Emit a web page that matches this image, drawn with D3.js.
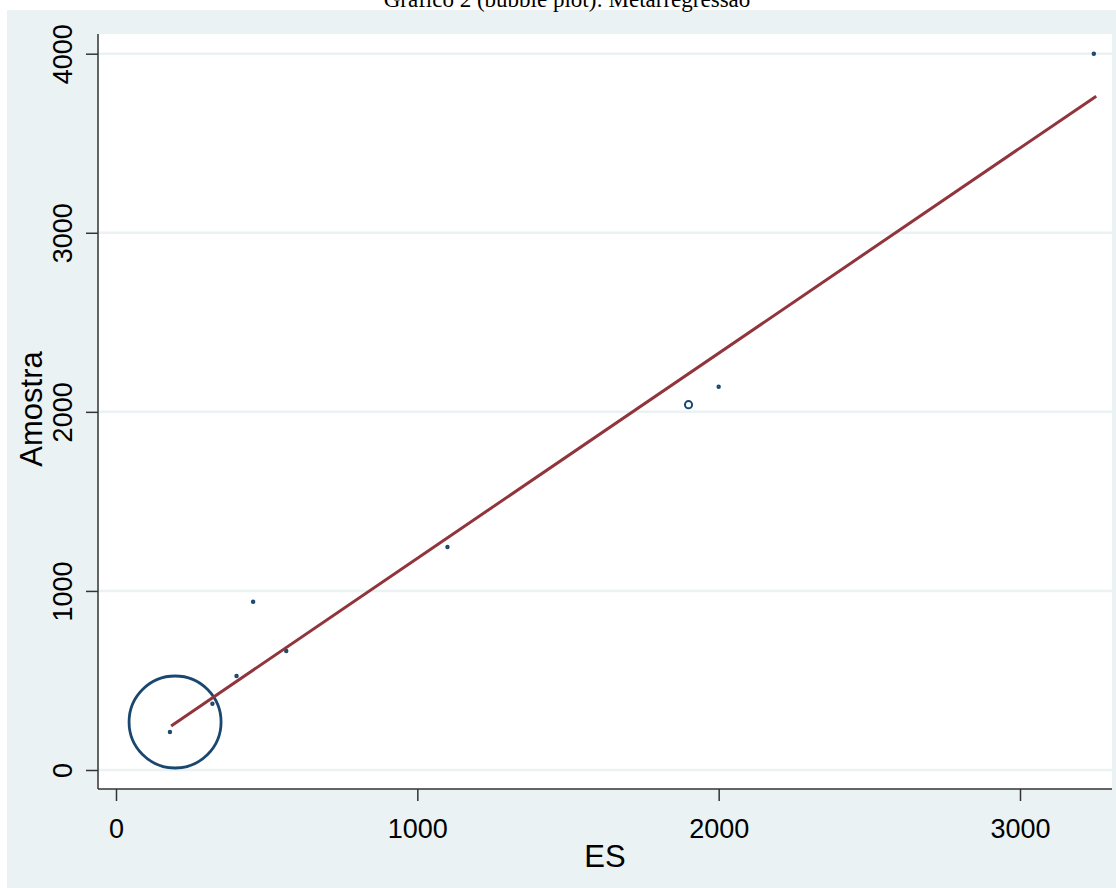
<!DOCTYPE html>
<html>
<head>
<meta charset="utf-8">
<script src="https://cdn.jsdelivr.net/npm/d3@7"></script>
<style>
  body { margin: 0; background: #fff; }
  .tick text { font-family: "Liberation Sans", Arial, sans-serif; font-size: 27px; fill: #000; }
</style>
</head>
<body>
<div class="chart"></div>
<script>
// DATA ---------------------------------------------------------------
const es      = [196, 179, 320, 400, 455, 565, 1100, 1900, 2000, 3245];
const amostra = [268, 212, 370, 525, 940, 665, 1245, 2040, 2140, 4000];
const peso    = [100, 0.07, 0.07, 0.07, 0.07, 0.07, 0.07, 0.6, 0.07, 0.07];

// fitted meta-regression line (endpoints)
const fitES      = [183, 3253];
const fitAmostra = [246, 3763];

const xTicks = [0, 1000, 2000, 3000];
const yTicks = [0, 1000, 2000, 3000, 4000];

// CHART INIT ---------------------------------------------------------
const width = 1116, height = 888;
const plot = {left: 98, right: 1112, top: 34, bottom: 789};

const svg = d3.select('.chart')
    .append('svg')
    .attr('width', width)
    .attr('height', height);

// graph region background
svg.append('rect')
    .attr('x', 7).attr('y', 10)
    .attr('width', width - 7).attr('height', height - 10)
    .attr('fill', '#eaf2f3');

// plot region
svg.append('rect')
    .attr('x', plot.left).attr('y', plot.top)
    .attr('width', plot.right - plot.left).attr('height', plot.bottom - plot.top)
    .attr('fill', '#fff');

const xScale = d3.scaleLinear().domain([0, 3000]).range([116, 1020]);
const yScale = d3.scaleLinear().domain([0, 4000]).range([770, 53.7]);
const rScale = d3.scaleSqrt().domain([0, d3.max(peso)]).range([0, 46]);

// gridlines
svg.append('g')
    .selectAll('line')
    .data(yTicks)
    .join('line')
    .attr('x1', plot.left).attr('x2', plot.right)
    .attr('y1', d => yScale(d)).attr('y2', d => yScale(d))
    .attr('stroke', '#eaf2f3')
    .attr('stroke-width', 2.5);

// axes
const xAxis = d3.axisBottom(xScale).tickValues(xTicks).tickSize(12).tickFormat(d3.format('d'));
const yAxis = d3.axisLeft(yScale).tickValues(yTicks).tickSize(12).tickFormat(d3.format('d'));

const gx = svg.append('g')
    .attr('transform', 'translate(0,' + plot.bottom + ')')
    .call(xAxis);
gx.select('.domain').remove();
gx.selectAll('.tick line').attr('stroke', '#333').attr('stroke-width', 1.5);
gx.selectAll('.tick text').attr('y', 49).attr('dy', null);

const gy = svg.append('g')
    .attr('transform', 'translate(' + plot.left + ',0)')
    .call(yAxis);
gy.select('.domain').remove();
gy.selectAll('.tick line').attr('stroke', '#333').attr('stroke-width', 1.5);
gy.selectAll('.tick text')
    .attr('x', 0).attr('dy', null)
    .attr('text-anchor', 'middle')
    .attr('transform', 'translate(-26,0) rotate(-90)');

// axis lines
svg.append('line')
    .attr('x1', plot.left).attr('x2', plot.left)
    .attr('y1', plot.top).attr('y2', plot.bottom)
    .attr('stroke', '#333').attr('stroke-width', 1.5);
svg.append('line')
    .attr('x1', plot.left).attr('x2', plot.right)
    .attr('y1', plot.bottom).attr('y2', plot.bottom)
    .attr('stroke', '#333').attr('stroke-width', 1.5);

// bubbles
svg.append('g')
    .selectAll('circle')
    .data(es.map((d, i) => ({x: d, y: amostra[i], w: peso[i]})))
    .join('circle')
    .attr('cx', d => xScale(d.x))
    .attr('cy', d => yScale(d.y))
    .attr('r', d => Math.max(rScale(d.w), 0.8))
    .attr('fill', 'none')
    .attr('stroke', '#1a476f')
    .attr('stroke-width', d => rScale(d.w) > 10 ? 2.8 : 2);

// fitted line
svg.append('line')
    .attr('x1', xScale(fitES[0])).attr('y1', yScale(fitAmostra[0]))
    .attr('x2', xScale(fitES[1])).attr('y2', yScale(fitAmostra[1]))
    .attr('stroke', '#90353b')
    .attr('stroke-width', 3);

// titles
svg.append('text')
    .attr('x', 567).attr('y', 7)
    .attr('text-anchor', 'middle')
    .style('font-family', '"Liberation Serif", "Times New Roman", serif')
    .style('font-size', '23px')
    .text('Gráfico 2 (bubble plot): Metarregressão');

svg.append('text')
    .attr('x', 605).attr('y', 867)
    .attr('text-anchor', 'middle')
    .style('font-family', '"Liberation Sans", Arial, sans-serif')
    .style('font-size', '31px')
    .text('ES');

svg.append('text')
    .attr('transform', 'translate(42,409) rotate(-90)')
    .attr('text-anchor', 'middle')
    .style('font-family', '"Liberation Sans", Arial, sans-serif')
    .style('font-size', '31px')
    .text('Amostra');
</script>
</body>
</html>
